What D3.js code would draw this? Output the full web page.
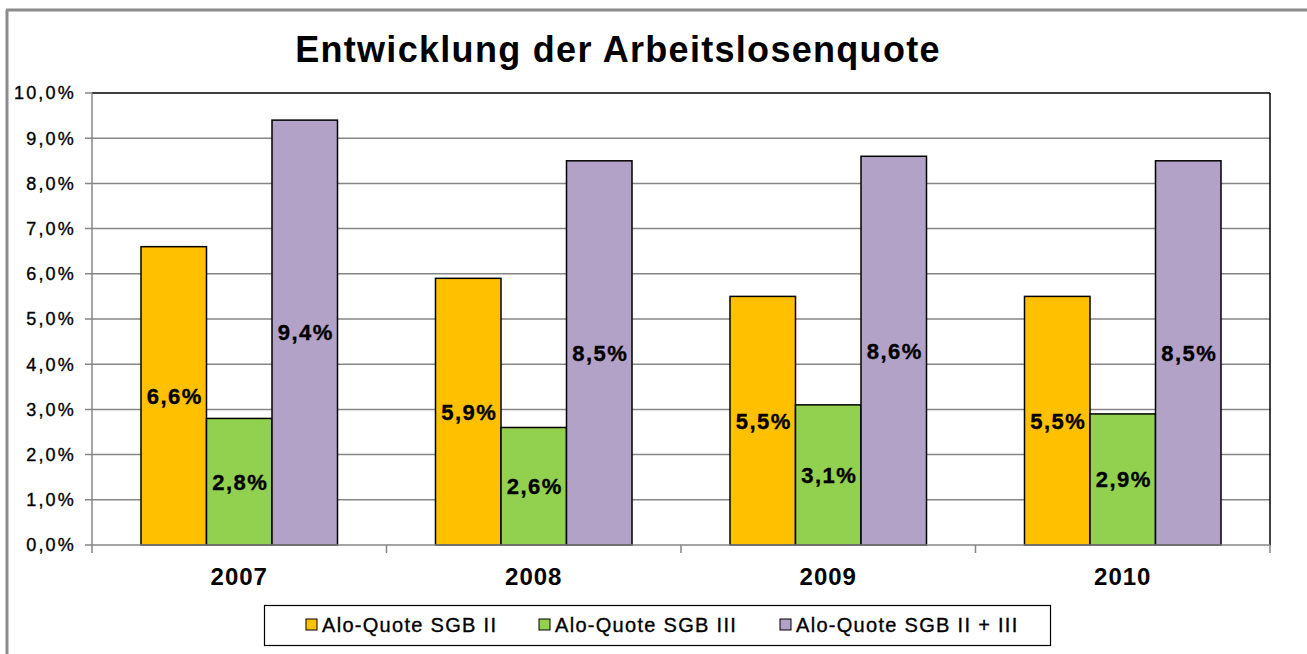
<!DOCTYPE html>
<html>
<head>
<meta charset="utf-8">
<script src="https://cdn.jsdelivr.net/npm/d3@7"></script>
<style type="text/css">
body{ margin: 0; background: #fff; }
text{ font-family: Arial, "Liberation Sans", sans-serif; fill: #000; }
.grid line{ stroke: #868686; stroke-width: 1.5; }
.bar{ stroke: #000; stroke-width: 1.5; }
.dark{ stroke: #000; stroke-width: 0.35px; }
</style>
</head>
<body>
<script type="text/javascript">
var width = 1307,
    height = 654;

var years = ['2007', '2008', '2009', '2010'];
var seriesNames = ['Alo-Quote SGB II', 'Alo-Quote SGB III', 'Alo-Quote SGB II + III'];
var seriesColors = ['#FFC000', '#92D050', '#B3A2C7'];
var sgb2 = [6.6, 5.9, 5.5, 5.5];
var sgb3 = [2.8, 2.6, 3.1, 2.9];
var sgb23 = [9.4, 8.5, 8.6, 8.5];
var yTicks = [0, 1, 2, 3, 4, 5, 6, 7, 8, 9, 10];

var series = [sgb2, sgb3, sgb23];

var plotLeft = 92, plotRight = 1270, plotTop = 93, plotBottom = 545;

var svg = d3.select('body')
    .append('svg')
        .attr('width', width)
        .attr('height', height);

// outer frame (only top and left visible)
svg.append('line')
    .attr('x1', 7).attr('y1', 10).attr('x2', 7).attr('y2', height)
    .attr('stroke', '#8c8c8c').attr('stroke-width', 3);
svg.append('line')
    .attr('x1', 6).attr('y1', 10).attr('x2', width).attr('y2', 10)
    .attr('stroke', '#8c8c8c').attr('stroke-width', 3);

svg.append('text')
    .attr('x', 618)
    .attr('y', 62)
    .attr('text-anchor', 'middle')
    .style('font-size', '36px')
    .style('font-weight', 'bold')
    .style('letter-spacing', '1.3px')
    .text('Entwicklung der Arbeitslosenquote');

var x0 = d3.scaleBand()
    .domain(years)
    .range([plotLeft, plotRight]);

var x1 = d3.scaleBand()
    .domain(d3.range(series.length))
    .range([49, x0.bandwidth() - 49]);

var y = d3.scaleLinear()
    .domain([0, 10])
    .range([plotBottom, plotTop]);

// grid lines
svg.append('g')
    .attr('class', 'grid')
    .selectAll('line')
    .data(yTicks.slice(1, -1))
    .enter()
    .append('line')
        .attr('x1', plotLeft - 7)
        .attr('x2', plotRight)
        .attr('y1', function(d){ return y(d); })
        .attr('y2', function(d){ return y(d); });

// plot area border top/right
svg.append('line')
    .attr('x1', plotLeft).attr('x2', plotRight).attr('y1', plotTop).attr('y2', plotTop)
    .attr('stroke', '#000').attr('stroke-width', 1.5);
svg.append('line')
    .attr('x1', plotLeft - 7).attr('x2', plotLeft).attr('y1', plotTop).attr('y2', plotTop)
    .attr('stroke', '#868686').attr('stroke-width', 1.5);
svg.append('line')
    .attr('x1', plotRight).attr('x2', plotRight).attr('y1', plotTop).attr('y2', plotBottom)
    .attr('stroke', '#000').attr('stroke-width', 1.5);

// bars
var groups = svg.selectAll('g.year')
    .data(years)
    .enter()
    .append('g')
        .attr('class', 'year')
        .attr('transform', function(d){ return 'translate(' + x0(d) + ',0)'; });

function rows(d, i){
    return series.map(function(s, k){ return {k: k, v: s[i]}; });
}

groups.selectAll('rect')
    .data(rows)
    .enter()
    .append('rect')
        .attr('class', 'bar')
        .attr('x', function(d){ return x1(d.k); })
        .attr('width', x1.bandwidth())
        .attr('y', function(d){ return y(d.v); })
        .attr('height', function(d){ return y(0) - y(d.v); })
        .attr('fill', function(d){ return seriesColors[d.k]; });

groups.selectAll('text')
    .data(rows)
    .enter()
    .append('text')
        .attr('class', 'dark')
        .attr('x', function(d){ return x1(d.k) + x1.bandwidth() / 2 + 1; })
        .attr('y', function(d){ return (y(d.v) + y(0)) / 2; })
        .attr('dy', '0.36em')
        .attr('text-anchor', 'middle')
        .style('font-size', '22px')
        .style('font-weight', 'bold')
        .style('letter-spacing', '1.5px')
        .text(function(d){ return d.v.toFixed(1).replace('.', ',') + '%'; });

// axes
svg.append('line')
    .attr('x1', plotLeft).attr('x2', plotLeft).attr('y1', plotTop).attr('y2', plotBottom)
    .attr('stroke', '#868686').attr('stroke-width', 1.5);
svg.append('line')
    .attr('x1', plotLeft - 7).attr('x2', plotRight).attr('y1', plotBottom).attr('y2', plotBottom)
    .attr('stroke', '#868686').attr('stroke-width', 1.5);

svg.append('g')
    .selectAll('line')
    .data(years.concat(['end']))
    .enter()
    .append('line')
        .attr('x1', function(d, i){ return plotLeft + i * x0.bandwidth(); })
        .attr('x2', function(d, i){ return plotLeft + i * x0.bandwidth(); })
        .attr('y1', plotBottom)
        .attr('y2', plotBottom + 8)
        .attr('stroke', '#868686').attr('stroke-width', 1.5);

svg.append('g')
    .selectAll('text')
    .data(yTicks)
    .enter()
    .append('text')
        .attr('class', 'dark')
        .attr('x', 76)
        .attr('y', function(d){ return y(d); })
        .attr('dy', '0.36em')
        .attr('text-anchor', 'end')
        .style('font-size', '18px')
        .style('letter-spacing', '2.2px')
        .text(function(d){ return d.toFixed(1).replace('.', ',') + '%'; });

svg.append('g')
    .selectAll('text')
    .data(years)
    .enter()
    .append('text')
        .attr('x', function(d){ return x0(d) + x0.bandwidth() / 2; })
        .attr('y', 585)
        .attr('text-anchor', 'middle')
        .style('font-size', '24px')
        .style('font-weight', 'bold')
        .style('letter-spacing', '1px')
        .text(function(d){ return d; });

// legend
var legend = svg.append('g');
legend.append('rect')
    .attr('x', 264.5).attr('y', 605.5)
    .attr('width', 786).attr('height', 40)
    .attr('fill', '#fff').attr('stroke', '#000').attr('stroke-width', 1.2);

var legendX = [306, 539, 780];
var items = legend.selectAll('g.item')
    .data(seriesNames)
    .enter()
    .append('g')
        .attr('class', 'item')
        .attr('transform', function(d, i){ return 'translate(' + legendX[i] + ',619)'; });

items.append('rect')
    .attr('width', 11).attr('height', 11)
    .attr('fill', function(d, i){ return seriesColors[i]; })
    .attr('stroke', '#000').attr('stroke-width', 1);

items.append('text')
    .attr('class', 'dark')
    .attr('x', 16)
    .attr('y', 13)
    .style('font-size', '20px')
    .style('letter-spacing', '1.3px')
    .text(function(d){ return d; });
</script>
</body>
</html>
